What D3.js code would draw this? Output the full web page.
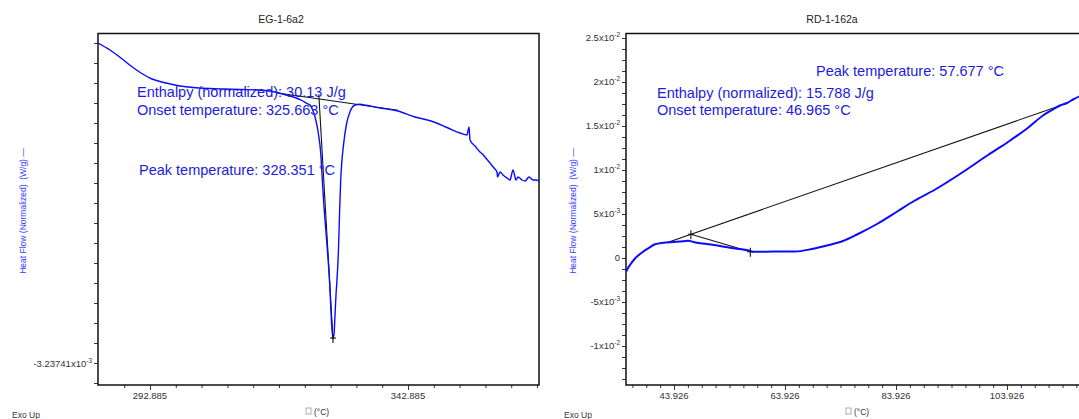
<!DOCTYPE html>
<html>
<head>
<meta charset="utf-8">
<script src="https://cdn.jsdelivr.net/npm/d3@7"></script>
<style>
  body { margin: 0; background: #fff; }
  svg { display: block; font-family: "Liberation Sans", Arial, sans-serif; }
</style>
</head>
<body>
<div id="chart"></div>
<script>
// ---- EG-1-6a2 (left panel) ----
var egTemp = [282.81, 285.13, 287.26, 289.20, 291.14, 293.27, 295.99, 298.70, 301.22, 304.51,
  307.23, 310.33, 314.01, 317.11, 319.24, 320.99, 322.34, 323.51, 323.89, 324.28,
  324.86, 325.50, 325.97, 326.28, 326.61, 326.99, 327.38, 327.77, 327.96, 328.16,
  328.35, 328.55, 328.74, 328.93, 329.12, 329.41, 329.61, 329.84, 330.09, 330.35,
  331.01, 331.65, 332.62, 333.58, 334.75, 337.26, 340.75, 344.24, 347.34, 350.64,
  352.96, 354.32, 354.51, 354.71, 354.90, 355.87, 356.84, 357.30, 357.80, 358.77,
  359.55, 360.13, 360.23, 360.71, 361.30, 362.07, 362.65, 363.23, 363.82, 364.20,
  364.98, 365.56, 366.34, 367.11, 367.69, 368.27];
var egFlow = [0.012763, 0.012413, 0.012013, 0.011613, 0.011263, 0.010963, 0.010763, 0.010613, 0.010538, 0.010488,
  0.010463, 0.010438, 0.010413, 0.010313, 0.010163, 0.010038, 0.009888, 0.009713, 0.009663, 0.009488,
  0.009078, 0.008263, 0.007263, 0.005913, 0.004563, 0.003313, 0.002013, 0.000413, -0.000687, -0.001587,
  -0.001987, -0.001787, -0.000837, 0.000163, 0.000913, 0.002413, 0.004163, 0.005913, 0.006913, 0.007578,
  0.008763, 0.009328, 0.009663, 0.009698, 0.009648, 0.009523, 0.009373, 0.009063, 0.008863, 0.008513,
  0.008263, 0.008163, 0.008363, 0.008563, 0.007913, 0.007613, 0.007313, 0.007213, 0.007063, 0.006763,
  0.006513, 0.006313, 0.006063, 0.006313, 0.006163, 0.006013, 0.005913, 0.006413, 0.005913, 0.006063,
  0.005913, 0.005863, 0.006063, 0.005913, 0.005913, 0.005863];
var egBaseTemp = [317.30, 340.95];
var egBaseFlow = [0.010278, 0.009398];
var egOnsetTemp = [325.60, 328.35];
var egOnsetFlow = [0.010200, -0.002050];
var egPeakTemp = [328.351];
var egPeakFlow = [-0.001987];
var egXLabels = [292.885, 342.885];
var egYLabelValues = [-0.00323741];
var egYLabelMant = ["-3.23741"];
var egYLabelExp = ["-3"];
var egNotes = ["Enthalpy (normalized): 30.13 J/g", "Onset temperature: 325.663 °C", "Peak temperature: 328.351 °C"];

// ---- RD-1-162a (right panel) ----
var rdTemp = [35.277, 35.638, 35.998, 36.899, 38.106, 39.295, 40.503, 41.998, 43.800, 45.602,
  46.503, 47.403, 49.818, 52.214, 54.611, 57.025, 58.214, 60.629, 62.899, 65.728,
  68.791, 71.854, 74.376, 76.899, 80.503, 84.286, 87.169, 91.133, 95.998, 100.503,
  104.106, 107.890, 110.412, 112.214, 113.476, 114.737, 115.818, 116.899];
var rdFlow = [-0.001591, -0.001136, -0.000795, -0.000057, 0.000602, 0.001102, 0.001557, 0.001739, 0.001818, 0.001898,
  0.001966, 0.001818, 0.001591, 0.001364, 0.001102, 0.000909, 0.000716, 0.000716, 0.000739, 0.000739,
  0.001023, 0.001477, 0.001932, 0.002670, 0.003864, 0.005341, 0.006477, 0.007841, 0.009773, 0.011705,
  0.013182, 0.014886, 0.016193, 0.016875, 0.017330, 0.017614, 0.018011, 0.018352];
var rdBaseTemp = [42.611, 113.836];
var rdBaseFlow = [0.001739, 0.017386];
var rdPeakLineTemp = [46.965, 57.677];
var rdPeakLineFlow = [0.002695, 0.000716];
var rdXLabels = [43.926, 63.926, 83.926, 103.926];
var rdYLabelValues = [-0.01, -0.005, 0, 0.005, 0.01, 0.015, 0.02, 0.025];
var rdYLabelMant = ["-1", "-5", "0", "5", "1", "1.5", "2", "2.5"];
var rdYLabelExp = ["-2", "-3", "", "-3", "-2", "-2", "-2", "-2"];
var rdNotes = ["Peak temperature: 57.677 °C", "Enthalpy (normalized): 15.788 J/g", "Onset temperature: 46.965 °C"];

var width = 1079, height = 419;
var svg = d3.select("#chart").append("svg").attr("width", width).attr("height", height);

function zipPts(xs, ys) {
  return xs.map(function (d, i) { return [d, ys[i]]; });
}

function isLabel(d, labels) {
  return labels.some(function (l) { return Math.abs(l - d) < 1e-6; });
}

function drawPanel(p) {
  var g = svg.append("g");
  var x = d3.scaleLinear().domain(p.xDomain).range([p.left, p.right]);
  var y = d3.scaleLinear().domain(p.yDomain).range([p.bottom, p.top]);

  g.append("text").attr("x", p.titleX).attr("y", 23).attr("text-anchor", "middle")
    .attr("font-size", "10.5px").attr("fill", "#222").text(p.title);

  // x ticks
  var xAxis = d3.axisBottom(x).tickValues(p.xTicks).tickSize(4).tickFormat("");
  var gx = g.append("g").attr("transform", "translate(0," + p.bottom + ")").call(xAxis);
  gx.select(".domain").remove();
  gx.selectAll(".tick line").attr("stroke", "#333")
    .attr("y2", function (d) { return isLabel(d, p.xLabels) ? 5 : 3; });
  g.selectAll(".xlab").data(p.xLabels).enter().append("text")
    .attr("x", function (d) { return x(d); }).attr("y", p.bottom + 14)
    .attr("text-anchor", "middle").attr("font-size", "9.5px").attr("fill", "#333")
    .text(function (d) { return d.toFixed(3); });

  // y ticks
  var yAxis = d3.axisLeft(y).tickValues(p.yTicks).tickSize(4).tickFormat("");
  var gy = g.append("g").attr("transform", "translate(" + p.left + ",0)").call(yAxis);
  gy.select(".domain").remove();
  gy.selectAll(".tick line").attr("stroke", "#333");
  p.yLabelValues.forEach(function (v, i) {
    var t = g.append("text").attr("x", p.left - 6).attr("y", y(v) + 3.5)
      .attr("text-anchor", "end").attr("font-size", "9.5px").attr("fill", "#333");
    if (p.yLabelExp[i] === "") {
      t.text(p.yLabelMant[i]);
    } else {
      t.append("tspan").text(p.yLabelMant[i] + "x10");
      t.append("tspan").attr("dy", -4).attr("font-size", "6.5px").text(p.yLabelExp[i]);
    }
  });

  // frame
  g.append("rect").attr("x", p.left).attr("y", p.top)
    .attr("width", p.right - p.left).attr("height", p.bottom - p.top)
    .attr("fill", "none").attr("stroke", "#111").attr("stroke-width", 1.5);

  var clip = "clip-" + p.id;
  svg.append("defs").append("clipPath").attr("id", clip).append("rect")
    .attr("x", p.left).attr("y", p.top).attr("width", p.right - p.left).attr("height", p.bottom - p.top);

  var straight = d3.line().x(function (d) { return x(d[0]); }).y(function (d) { return y(d[1]); });
  var smooth = d3.line().curve(d3.curveMonotoneX)
    .x(function (d) { return x(d[0]); }).y(function (d) { return y(d[1]); });
  var plot = g.append("g").attr("clip-path", "url(#" + clip + ")");

  p.blackLines.forEach(function (pts) {
    plot.append("path").attr("d", straight(pts)).attr("fill", "none")
      .attr("stroke", "#111").attr("stroke-width", 1.1);
  });
  plot.append("path").attr("d", smooth(p.curve)).attr("fill", "none")
    .attr("stroke", "#0a0aff").attr("stroke-width", p.curveWidth).attr("stroke-linejoin", "round");

  p.crosses.forEach(function (c) {
    var cx = x(c[0]), cy = y(c[1]);
    plot.append("line").attr("x1", cx).attr("x2", cx).attr("y1", cy - 4).attr("y2", cy + 5)
      .attr("stroke", "#111").attr("stroke-width", 1.1);
    plot.append("line").attr("x1", cx - 3).attr("x2", cx + 3).attr("y1", cy).attr("y2", cy)
      .attr("stroke", "#111").attr("stroke-width", 1.1);
  });

  p.notes.forEach(function (n, i) {
    g.append("text").attr("x", p.noteXY[i][0]).attr("y", p.noteXY[i][1])
      .attr("font-size", "14.5px").attr("fill", "#1c1cdc").text(n);
  });

  // axis titles
  g.append("text").attr("transform", "translate(" + p.yTitleX + ",211) rotate(-90)")
    .attr("text-anchor", "middle").attr("font-size", "8.5px").attr("fill", "#3b3bff")
    .attr("xml:space", "preserve").style("white-space", "pre")
    .text("Heat Flow (Normalized)  (W/g) \u2014");
  g.append("rect").attr("x", p.unitX - 14).attr("y", 408).attr("width", 5).attr("height", 6)
    .attr("fill", "none").attr("stroke", "#999").attr("stroke-width", 0.8);
  g.append("text").attr("x", p.unitX - 6).attr("y", 415).attr("font-size", "8.5px")
    .attr("fill", "#333").text("(°C)");
  g.append("text").attr("x", p.exoX).attr("y", 418).attr("font-size", "8.5px")
    .attr("fill", "#333").text("Exo Up");
}

drawPanel({
  id: "eg", title: "EG-1-6a2", titleX: 281,
  left: 98, right: 539, top: 33.5, bottom: 385,
  xDomain: [282.81, 368.27], yDomain: [-0.004337, 0.013238],
  xTicks: d3.range(0, 17).map(function (k) { return 287.885 + k * 5; }),
  xLabels: egXLabels,
  yTicks: d3.range(-1, 17).map(function (k) { return -0.00323741 + k * 0.001; }),
  yLabelValues: egYLabelValues, yLabelMant: egYLabelMant, yLabelExp: egYLabelExp,
  curve: zipPts(egTemp, egFlow), curveWidth: 1.4,
  blackLines: [zipPts(egBaseTemp, egBaseFlow), zipPts(egOnsetTemp, egOnsetFlow)],
  crosses: zipPts(egPeakTemp, egPeakFlow),
  notes: egNotes, noteXY: [[137, 97], [137, 115], [139, 175]],
  yTitleX: 26, unitX: 320, exoX: 12
});

drawPanel({
  id: "rd", title: "RD-1-162a", titleX: 832,
  left: 626, right: 1090, top: 33.5, bottom: 385,
  xDomain: [35.277, 118.88], yDomain: [-0.014432, 0.025511],
  xTicks: d3.range(0, 33).map(function (k) { return 36.426 + k * 2.5; }),
  xLabels: rdXLabels,
  yTicks: d3.range(-11, 21).map(function (k) { return k * 0.00125; }),
  yLabelValues: rdYLabelValues, yLabelMant: rdYLabelMant, yLabelExp: rdYLabelExp,
  curve: zipPts(rdTemp, rdFlow), curveWidth: 2,
  blackLines: [zipPts(rdBaseTemp, rdBaseFlow), zipPts(rdPeakLineTemp, rdPeakLineFlow)],
  crosses: zipPts(rdPeakLineTemp, rdPeakLineFlow),
  notes: rdNotes, noteXY: [[816, 76], [657, 98], [657, 115]],
  yTitleX: 576, unitX: 860, exoX: 564
});
</script>
</body>
</html>
